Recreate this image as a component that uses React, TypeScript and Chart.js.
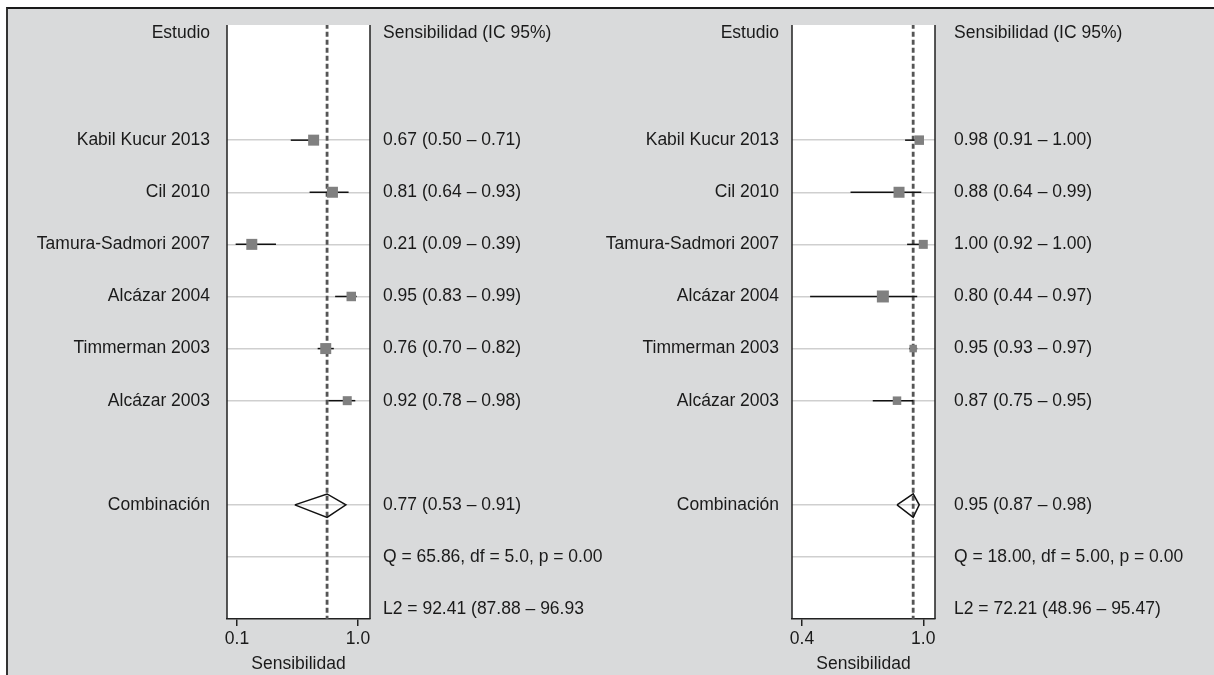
import React, { useEffect, useRef } from "react";
import { Chart, registerables } from "chart.js";

Chart.register(...registerables);

// ---- data ----
const studyNames = [
  "Kabil Kucur 2013",
  "Cil 2010",
  "Tamura-Sadmori 2007",
  "Alcázar 2004",
  "Timmerman 2003",
  "Alcázar 2003",
];

const sensA = [0.67, 0.81, 0.21, 0.95, 0.76, 0.92];
const lowA = [0.5, 0.64, 0.09, 0.83, 0.7, 0.78];
const highA = [0.71, 0.93, 0.39, 0.99, 0.82, 0.98];
const pooledA = [0.77, 0.53, 0.91];
const qTextA = "Q = 65.86, df = 5.0, p = 0.00";
const l2TextA = "L2 = 92.41 (87.88 – 96.93";
const ticksA = [0.1, 1.0];

const sensB = [0.98, 0.88, 1.0, 0.8, 0.95, 0.87];
const lowB = [0.91, 0.64, 0.92, 0.44, 0.93, 0.75];
const highB = [1.0, 0.99, 1.0, 0.97, 0.97, 0.95];
const pooledB = [0.95, 0.87, 0.98];
const qTextB = "Q = 18.00, df = 5.00, p = 0.00";
const l2TextB = "L2 = 72.21 (48.96 – 95.47)";
const ticksB = [0.4, 1.0];

// ---- styles ----
const FONT = "'Liberation Sans', Arial, sans-serif";
const FONT_SIZE = 17.5;
const TEXT = "#1a1a1a";
const GREY_BG = "#d9dadb";
const SQUARE = "#808080";
const squareSideA = [11, 11, 11, 9.5, 11, 9];
const squareSideB = [9.5, 11, 9, 12, 7.5, 8.5];

// row slots on the y axis (0 = header)
const STUDY_ROW0 = 2;
const POOLED_ROW = 9;
const Q_ROW = 10;
const L2_ROW = 11;

type PanelCfg = {
  left: number;
  top: number;
  width: number;
  height: number;
  padLeft: number;
  padRight: number;
  padTop: number;
  xMin: number;
  xMax: number;
  ticks: number[];
  sens: number[];
  low: number[];
  high: number[];
  pooled: number[];
  qText: string;
  l2Text: string;
  sides: number[];
  nameGap: number;
  valueGap: number;
};

const fmt = (v: number) => v.toFixed(2);

function ForestPanel({ cfg }: { cfg: PanelCfg }) {
  const ref = useRef<HTMLCanvasElement | null>(null);

  useEffect(() => {
    if (!ref.current) return;
    const rows = studyNames.map((_, i) => STUDY_ROW0 + i);

    const squares = {
      type: "scatter" as const,
      data: cfg.sens.map((v, i) => ({ x: v, y: rows[i] })),
      pointStyle: "rect" as const,
      pointRadius: cfg.sides.map((s) => s / 2 / Math.SQRT1_2),
      pointBackgroundColor: SQUARE,
      pointBorderWidth: 0,
      borderWidth: 0,
      showLine: false,
    };

    const ciLines = cfg.sens.map((_, i) => ({
      type: "scatter" as const,
      data: [
        { x: cfg.low[i], y: rows[i] },
        { x: cfg.high[i], y: rows[i] },
      ],
      showLine: true,
      borderColor: "#111",
      borderWidth: 1.5,
      pointRadius: 0,
    }));

    const [pEst, pLo, pHi] = cfg.pooled;
    const diamond = {
      type: "scatter" as const,
      data: [
        { x: pLo, y: POOLED_ROW },
        { x: pEst, y: POOLED_ROW - 0.21 },
        { x: pHi, y: POOLED_ROW },
        { x: pEst, y: POOLED_ROW + 0.24 },
        { x: pLo, y: POOLED_ROW },
      ],
      showLine: true,
      borderColor: "#111",
      borderWidth: 1.5,
      pointRadius: 0,
      tension: 0,
    };

    const pooledLine = {
      type: "scatter" as const,
      data: [
        { x: pEst, y: -1 },
        { x: pEst, y: 12 },
      ],
      showLine: true,
      borderColor: "#555",
      borderWidth: 2.8,
      borderDash: [5, 3],
      pointRadius: 0,
    };

    const panelPlugin = {
      id: "forestDecor",
      beforeDraw(chart: any) {
        const { ctx, chartArea: a } = chart;
        ctx.save();
        ctx.fillStyle = "#fff";
        ctx.fillRect(a.left, a.top, a.right - a.left, a.bottom - a.top);
        ctx.restore();
      },
      afterDraw(chart: any) {
        const { ctx, chartArea: a } = chart;
        const y = chart.scales.y;
        ctx.save();
        // side frame lines
        ctx.strokeStyle = "#222";
        ctx.lineWidth = 1.5;
        ctx.beginPath();
        ctx.moveTo(a.left, a.top);
        ctx.lineTo(a.left, a.bottom);
        ctx.moveTo(a.right, a.top);
        ctx.lineTo(a.right, a.bottom);
        ctx.stroke();

        ctx.fillStyle = TEXT;
        ctx.font = `${FONT_SIZE}px ${FONT}`;
        ctx.textBaseline = "middle";
        const nameX = a.left - cfg.nameGap;
        const valX = a.right + cfg.valueGap;

        ctx.textAlign = "right";
        ctx.fillText("Estudio", nameX, y.getPixelForValue(0) - 3);
        studyNames.forEach((n, i) => ctx.fillText(n, nameX, y.getPixelForValue(rows[i])));
        ctx.fillText("Combinación", nameX, y.getPixelForValue(POOLED_ROW));

        ctx.textAlign = "left";
        ctx.fillText("Sensibilidad (IC 95%)", valX, y.getPixelForValue(0) - 3);
        cfg.sens.forEach((v, i) =>
          ctx.fillText(
            `${fmt(v)} (${fmt(cfg.low[i])} – ${fmt(cfg.high[i])})`,
            valX,
            y.getPixelForValue(rows[i])
          )
        );
        ctx.fillText(`${fmt(pEst)} (${fmt(pLo)} – ${fmt(pHi)})`, valX, y.getPixelForValue(POOLED_ROW));
        ctx.fillText(cfg.qText, valX, y.getPixelForValue(Q_ROW));
        ctx.fillText(cfg.l2Text, valX, y.getPixelForValue(L2_ROW));
        ctx.restore();
      },
    };

    const chart = new Chart(ref.current, {
      type: "scatter",
      data: { datasets: [squares, ...ciLines, diamond, pooledLine] as any },
      options: {
        animation: false,
        responsive: false,
        devicePixelRatio: 1,
        layout: {
          padding: { left: cfg.padLeft, right: cfg.padRight, top: cfg.padTop, bottom: 0 },
        },
        plugins: {
          legend: { display: false },
          tooltip: { enabled: false },
        },
        scales: {
          x: {
            type: "linear",
            min: cfg.xMin,
            max: cfg.xMax,
            afterBuildTicks: (s: any) => {
              s.ticks = cfg.ticks.map((v) => ({ value: v }));
            },
            afterFit: (s: any) => {
              s.height = 56;
            },
            ticks: {
              color: TEXT,
              font: { family: FONT, size: FONT_SIZE },
              padding: 3,
              maxRotation: 0,
              callback: (v: any) => Number(v).toFixed(1),
            },
            grid: {
              drawOnChartArea: false,
              drawTicks: true,
              tickLength: 7,
              color: "#222",
              lineWidth: 1.5,
            },
            border: { display: true, color: "#222", width: 1.5 },
            title: {
              display: true,
              text: "Sensibilidad",
              color: TEXT,
              font: { family: FONT, size: FONT_SIZE },
              padding: { top: 2, bottom: 0 },
            },
          },
          y: {
            type: "linear",
            reverse: true,
            min: -0.21,
            max: 11.19,
            afterBuildTicks: (s: any) => {
              s.ticks = [...rows, POOLED_ROW, Q_ROW].map((v) => ({ value: v }));
            },
            afterFit: (s: any) => {
              s.width = 0;
            },
            ticks: { display: false },
            grid: {
              drawOnChartArea: true,
              drawTicks: false,
              color: "#cfcfcf",
              lineWidth: 1.5,
            },
            border: { display: false },
          },
        },
      } as any,
      plugins: [panelPlugin],
    });

    return () => chart.destroy();
  }, [cfg]);

  return (
    <canvas
      ref={ref}
      width={cfg.width}
      height={cfg.height}
      style={{
        position: "absolute",
        left: cfg.left,
        top: cfg.top,
        width: cfg.width,
        height: cfg.height,
      }}
    />
  );
}

const panelA: PanelCfg = {
  left: 10,
  top: 10,
  width: 620,
  height: 665,
  padLeft: 217,
  padRight: 260,
  padTop: 15,
  xMin: 0.0256,
  xMax: 1.0893,
  ticks: ticksA,
  sens: sensA,
  low: lowA,
  high: highA,
  pooled: pooledA,
  qText: qTextA,
  l2Text: l2TextA,
  sides: squareSideA,
  nameGap: 17,
  valueGap: 13,
};

const panelB: PanelCfg = {
  left: 600,
  top: 10,
  width: 614,
  height: 665,
  padLeft: 192,
  padRight: 279,
  padTop: 15,
  xMin: 0.3504,
  xMax: 1.058,
  ticks: ticksB,
  sens: sensB,
  low: lowB,
  high: highB,
  pooled: pooledB,
  qText: qTextB,
  l2Text: l2TextB,
  sides: squareSideB,
  nameGap: 13,
  valueGap: 19,
};

export default function App() {
  return (
    <div
      style={{
        position: "fixed",
        left: 0,
        top: 0,
        width: 1214,
        height: 675,
        background: "#fff",
        overflow: "hidden",
      }}
    >
      <div
        style={{
          position: "absolute",
          left: 6,
          top: 7,
          width: 1208,
          height: 668,
          background: GREY_BG,
          borderLeft: "2px solid #333",
          borderTop: "2px solid #1a1a1a",
          boxSizing: "border-box",
        }}
      />
      <ForestPanel cfg={panelA} />
      <ForestPanel cfg={panelB} />
    </div>
  );
}
